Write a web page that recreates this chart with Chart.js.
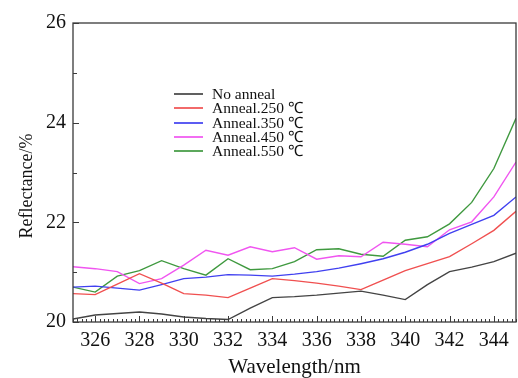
<!DOCTYPE html>
<html>
<head>
<meta charset="utf-8">
<script src="https://cdn.jsdelivr.net/npm/chart.js@4/dist/chart.umd.min.js"></script>
<style>
  body { margin: 0; background: #fff; }
  #wrap { position: relative; width: 518px; height: 378px; }
  #legend { position: absolute; left: 174px; top: 87px; font-family: "Liberation Serif", serif; font-size: 15.5px; color: #111; }
  .row { display: flex; align-items: center; height: 14px; line-height: 14px; margin-bottom: 0.3px; white-space: nowrap; }
  .swatch { width: 29px; height: 2px; margin-right: 9px; opacity: 0.85; }
</style>
</head>
<body>
<div id="wrap">
  <canvas id="chart" width="518" height="378"></canvas>
  <div id="legend"></div>
</div>
<script>
const wavelengths = [325, 326, 327, 328, 329, 330, 331, 332, 333, 334, 335, 336, 337, 338, 339, 340, 341, 342, 343, 344, 345];

const noAnneal = [20.06, 20.14, 20.17, 20.20, 20.16, 20.10, 20.07, 20.05, 20.28, 20.49, 20.51, 20.54, 20.58, 20.62, 20.54, 20.45, 20.75, 21.01, 21.10, 21.21, 21.38];
const anneal250 = [20.57, 20.55, 20.76, 20.97, 20.78, 20.57, 20.54, 20.49, 20.68, 20.87, 20.83, 20.78, 20.72, 20.65, 20.84, 21.03, 21.17, 21.31, 21.57, 21.84, 22.22];
const anneal350 = [20.70, 20.72, 20.68, 20.64, 20.75, 20.87, 20.90, 20.95, 20.94, 20.92, 20.96, 21.01, 21.08, 21.17, 21.27, 21.40, 21.56, 21.78, 21.96, 22.14, 22.51];
const anneal450 = [21.11, 21.07, 21.01, 20.77, 20.87, 21.14, 21.44, 21.34, 21.51, 21.41, 21.49, 21.26, 21.33, 21.31, 21.60, 21.56, 21.51, 21.85, 22.01, 22.51, 23.21];
const anneal550 = [20.70, 20.60, 20.92, 21.03, 21.23, 21.07, 20.94, 21.27, 21.05, 21.07, 21.21, 21.45, 21.47, 21.36, 21.32, 21.64, 21.71, 21.97, 22.40, 23.08, 24.09];

const seriesNames = ["No anneal", "Anneal.250 \u2103", "Anneal.350 \u2103", "Anneal.450 \u2103", "Anneal.550 \u2103"];
const seriesColors = ["#444444", "#f05050", "#4040f0", "#f055f0", "#3f993f"];
const xTicks = [326, 328, 330, 332, 334, 336, 338, 340, 342, 344];
const yTicks = [20, 22, 24, 26];

const allSeries = [noAnneal, anneal250, anneal350, anneal450, anneal550];
const serif = "'Liberation Serif', 'Times New Roman', serif";

const datasets = allSeries.map((vals, i) => ({
  label: seriesNames[i],
  data: vals.map((v, j) => ({ x: wavelengths[j], y: v })),
  borderColor: seriesColors[i],
  borderWidth: 1.4,
  pointRadius: 0,
  tension: 0,
  fill: false
}));

// frame + inward tick marks, placed with the chart's own scales
const framePlugin = {
  id: "frame",
  afterDraw(c) {
    const ctx = c.ctx;
    const a = c.chartArea;
    const xs = c.scales.x, ys = c.scales.y;
    ctx.save();
    ctx.strokeStyle = "#3a3a3a";
    ctx.lineWidth = 1.3;
    ctx.strokeRect(a.left, a.top, a.right - a.left, a.bottom - a.top);
    ctx.lineWidth = 1;
    ctx.beginPath();
    for (let v = xs.min; v <= xs.max + 1e-6; v += 0.2) {
      const px = Math.round(xs.getPixelForValue(v)) + 0.5;
      const major = xTicks.some(t => Math.abs(t - v) < 1e-6);
      ctx.moveTo(px, a.bottom);
      ctx.lineTo(px, a.bottom - (major ? 6 : 3));
    }
    for (let v = ys.min; v <= ys.max; v += 1) {
      const py = Math.round(ys.getPixelForValue(v)) + 0.5;
      ctx.moveTo(a.left, py);
      ctx.lineTo(a.left + (v % 2 === 0 ? 6 : 4), py);
    }
    ctx.stroke();
    ctx.restore();
  }
};

new Chart(document.getElementById("chart"), {
  type: "line",
  data: { datasets: datasets },
  options: {
    responsive: false,
    animation: false,
    layout: { padding: { left: 0, right: 2, top: 23, bottom: 0 } },
    plugins: { legend: { display: false }, tooltip: { enabled: false } },
    scales: {
      x: {
        type: "linear",
        min: 325,
        max: 345,
        afterBuildTicks: s => { s.ticks = xTicks.map(v => ({ value: v })); },
        afterFit: s => { s.height = 56; },
        grid: { display: false, drawTicks: false },
        border: { display: false },
        ticks: { color: "#111", padding: 7, maxRotation: 0, autoSkip: false, font: { family: serif, size: 20 } },
        title: { display: true, text: "Wavelength/nm", color: "#111", padding: 0, font: { family: serif, size: 21, lineHeight: 1 } }
      },
      y: {
        min: 20,
        max: 26,
        afterBuildTicks: s => { s.ticks = yTicks.map(v => ({ value: v })); },
        afterFit: s => { s.width = 73; },
        grid: { display: false, drawTicks: false },
        border: { display: false },
        ticks: { color: "#111", padding: 7, font: { family: serif, size: 20 } },
        // trailing spaces nudge the rotated title a bit lower, like the original
        title: { display: true, text: "Reflectance/%\u00a0\u00a0\u00a0\u00a0\u00a0\u00a0", color: "#111", padding: { top: 18, bottom: 0 }, font: { family: serif, size: 18, lineHeight: 1 } }
      }
    }
  },
  plugins: [framePlugin]
});

const legend = document.getElementById("legend");
seriesNames.forEach((name, i) => {
  const row = document.createElement("div");
  row.className = "row";
  const sw = document.createElement("span");
  sw.className = "swatch";
  sw.style.background = seriesColors[i];
  const txt = document.createElement("span");
  txt.textContent = name;
  row.appendChild(sw);
  row.appendChild(txt);
  legend.appendChild(row);
});
</script>
</body>
</html>
